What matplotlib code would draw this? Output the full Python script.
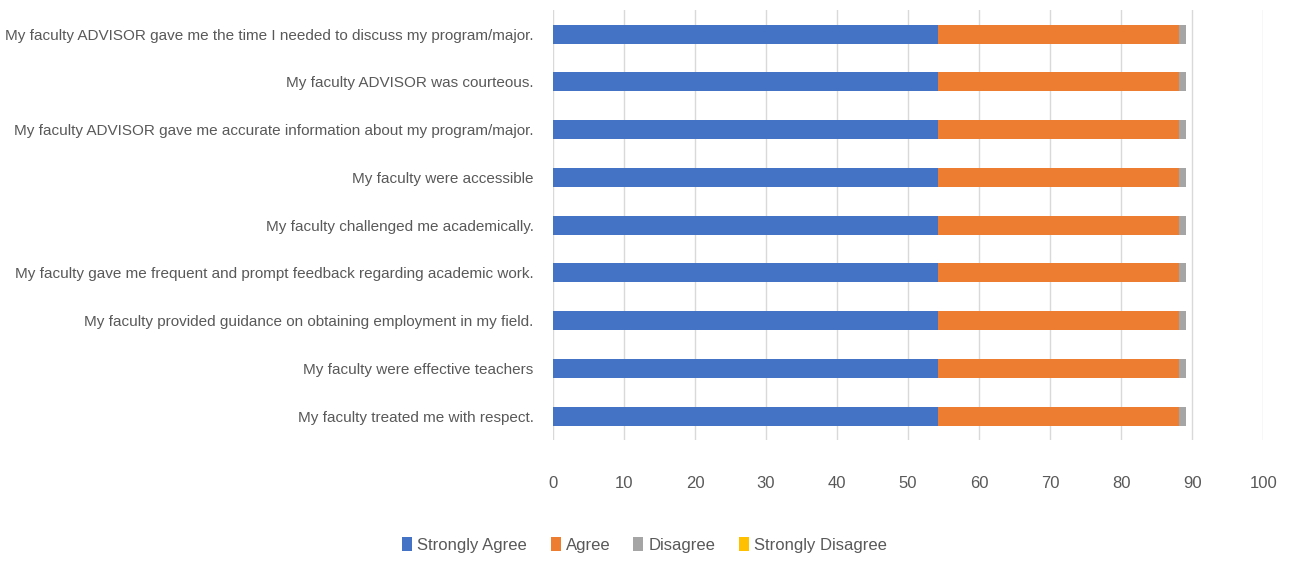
import matplotlib
matplotlib.use("Agg")
from matplotlib import pyplot as plt
from matplotlib import font_manager
import numpy as np

# pick a narrow face if one is around, otherwise Arial-like Liberation Sans
installed = {f.name for f in font_manager.fontManager.ttflist}
family = "Liberation Sans"
for cand in ["Liberation Sans Narrow", "DejaVu Sans Condensed", "Liberation Sans"]:
    if cand in installed:
        family = cand
        break
plt.rcParams['font.family'] = [family, 'DejaVu Sans']

questions = [
    "My faculty ADVISOR gave me the time I needed to discuss my program/major.",
    "My faculty ADVISOR was courteous.",
    "My faculty ADVISOR gave me accurate information about my program/major.",
    "My faculty were accessible",
    "My faculty challenged me academically.",
    "My faculty gave me frequent and prompt feedback regarding academic work.",
    "My faculty provided guidance on obtaining employment in my field.",
    "My faculty were effective teachers",
    "My faculty treated me with respect.",
]
strongly_agree = [54.2, 54.2, 54.2, 54.2, 54.2, 54.2, 54.2, 54.2, 54.2]
agree = [33.9, 33.9, 33.9, 33.9, 33.9, 33.9, 33.9, 33.9, 33.9]
disagree = [1.0, 1.0, 1.0, 1.0, 1.0, 1.0, 1.0, 1.0, 1.0]
strongly_disagree = [0, 0, 0, 0, 0, 0, 0, 0, 0]

series = [("Strongly Agree", strongly_agree, "#4472c4"),
          ("Agree", agree, "#ed7d31"),
          ("Disagree", disagree, "#a5a5a5"),
          ("Strongly Disagree", strongly_disagree, "#ffc000")]

fs = 13 if family != "Liberation Sans" else 11

fig = plt.figure(figsize=(12.89, 5.65), dpi=100)
ax = fig.add_axes([0.429, 0.221, 0.551, 0.761])

y = np.arange(len(questions))[::-1]
left = np.zeros(len(questions))
for name, vals, col in series:
    ax.barh(y, vals, left=left, height=0.4, color=col, label=name)
    left += np.array(vals)

ax.set_xlim(0, 100)
ax.set_ylim(-0.5, len(questions) - 0.5)
ax.set_xticks(np.arange(0, 101, 10))
ax.set_yticks(y)
ax.set_yticklabels(questions)
ax.xaxis.grid(True, color="#d9d9d9", linewidth=1)
ax.set_axisbelow(True)
for s in ax.spines.values():
    s.set_visible(False)
ax.tick_params(axis="both", length=0, colors="#595959", labelsize=fs)
ax.tick_params(axis="x", pad=26, labelsize=fs + 1)
ax.tick_params(axis="y", pad=14)

fig.legend(loc="lower center", bbox_to_anchor=(0.5, -0.005), ncol=4, frameon=False,
           fontsize=fs + 1, handlelength=0.6, handleheight=0.9, handletextpad=0.3,
           columnspacing=1.4, labelcolor="#595959")

plt.savefig("out.png", dpi=100)
